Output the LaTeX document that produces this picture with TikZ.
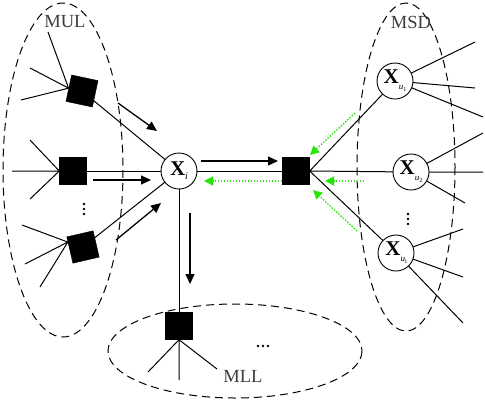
\documentclass[tikz,border=0pt]{standalone}
\usepackage{fontspec}
\setmainfont{Liberation Serif}
\usetikzlibrary{arrows.meta,backgrounds,calc}
\definecolor{grn}{RGB}{40,228,10}
\definecolor{labgray}{RGB}{60,60,60}
\begin{document}
\begin{tikzpicture}[x=1pt,y=-1pt,
  sq/.style={fill=black,draw=black,minimum size=27pt,inner sep=0pt},
  var/.style={circle,draw,line width=0.9pt,fill=white,minimum size=36pt,inner sep=0pt},
  ln/.style={line width=1pt},
  arr/.style={line width=1.3pt,-{Triangle[length=10pt,width=9pt]}},
  garr/.style={grn,line width=1.3pt,dash pattern=on 1.5pt off 1.5pt,-{Triangle[length=9pt,width=9pt]}},
  grp/.style={dash pattern=on 8pt off 5pt,line width=1pt},
  lab/.style={text=labgray,font=\fontsize{18.5}{18.5}\selectfont,inner sep=0pt},
  dot/.style={fill=black,circle,inner sep=0pt,minimum size=2.6pt}]
\useasboundingbox (0,0) rectangle (485,400);
% groups
\draw[grp] (63,170) ellipse [x radius=60, y radius=167];
\draw[grp] (406,167) ellipse [x radius=49, y radius=164];
\draw[grp] (235,351) ellipse [x radius=127, y radius=47];
\node[lab] (mul) at (65,22) {MUL};
\node[lab] (msd) at (411,22) {MSD};
\node[lab] (mll) at (243,376) {MLL};
% factor nodes
\node[sq,rotate=-12] (s1) at (82,91) {};
\node[sq] (s2) at (73,171) {};
\node[sq,rotate=13] (s3) at (83,247) {};
\node[sq] (c) at (296,171) {};
\node[sq] (m) at (179,326) {};
% variable nodes
\node[var] (xi) at (179,171) {{\fontsize{21}{21}\selectfont\bfseries X}\raisebox{-4pt}{\fontsize{10}{10}\selectfont\itshape i}};
\node[var] (u1) at (395,81) {{\fontsize{21}{21}\selectfont\bfseries X}\raisebox{-6pt}{\fontsize{9}{9}\selectfont\itshape u\raisebox{-2pt}{\fontsize{6}{6}\selectfont\upshape 1}}};
\node[var] (u2) at (411,172) {{\fontsize{21}{21}\selectfont\bfseries X}\raisebox{-6pt}{\fontsize{9}{9}\selectfont\itshape u\raisebox{-2pt}{\fontsize{6}{6}\selectfont\upshape 2}}};
\node[var] (ul) at (396,253) {{\fontsize{21}{21}\selectfont\bfseries X}\raisebox{-6pt}{\fontsize{9}{9}\selectfont\itshape u\raisebox{-2pt}{\fontsize{6}{6}\selectfont\upshape l}}};
% free ends
\coordinate (a1) at (48,32);
\coordinate (a2) at (30,68);
\coordinate (a3) at (21,100);
\coordinate (b1) at (30,140);
\coordinate (b2) at (12,171);
\coordinate (b3) at (30,199);
\coordinate (d1) at (22,225);
\coordinate (d2) at (25,264);
\coordinate (d3) at (40,287);
\coordinate (e1) at (148,372);
\coordinate (e2) at (179,380);
\coordinate (e3) at (217,369);
\coordinate (p1) at (475,42);
\coordinate (p2) at (475,88);
\coordinate (p3) at (483,117);
\coordinate (q1) at (483,133);
\coordinate (q2) at (483,172);
\coordinate (q3) at (465,203);
\coordinate (r1) at (463,229);
\coordinate (r2) at (463,277);
\coordinate (r3) at (463,323);
\begin{scope}[on background layer]
  \draw[ln] (a1) -- (s1.west) (a2) -- (s1.west) (a3) -- (s1.west);
  \draw[ln] (b1) -- (s2.west) (b2) -- (s2.west) (b3) -- (s2.west);
  \coordinate (s3in) at ($(s3.west)!0.6!(s3.north west)$);
  \draw[ln] (d1) -- (s3in) (d2) -- (s3in) (d3) -- (s3in);
  \draw[ln] (s1.center) -- (xi.center);
  \draw[ln] (s2.center) -- (xi.center);
  \draw[ln] (s3.center) -- (xi.center);
  \draw[ln] (xi.center) -- (m.center);
  \draw[ln] (xi.center) -- (c.center);
  \draw[ln] (m.south) -- (e1) (m.south) -- (e2) (m.south) -- (e3);
  \draw[ln] (c.east) -- (u1.center) (c.east) -- (u2.center) (c.east) -- (ul.center);
  \draw[ln] (u1.center) -- (p1) (u1.center) -- (p2) (u1.center) -- (p3);
  \draw[ln] (u2.center) -- (q1) (u2.center) -- (q2) (u2.center) -- (q3);
  \draw[ln] (ul.center) -- (r1) (ul.center) -- (r2) (ul.center) -- (r3);
\end{scope}
% message arrows
\coordinate (m1s) at (118,103); \coordinate (m1e) at (157,131);
\coordinate (m2s) at (93,180);  \coordinate (m2e) at (151,180);
\coordinate (m3s) at (116,240); \coordinate (m3e) at (161,203);
\coordinate (m4s) at (190,213); \coordinate (m4e) at (190,284);
\coordinate (m5s) at (201,161); \coordinate (m5e) at (278,161);
\draw[arr] (m1s) -- (m1e);
\draw[arr] (m2s) -- (m2e);
\draw[arr] (m3s) -- (m3e);
\draw[arr] (m4s) -- (m4e);
\draw[arr] (m5s) -- (m5e);
\coordinate (g1s) at (355,113); \coordinate (g1e) at (310,155);
\coordinate (g2s) at (364,181); \coordinate (g2e) at (325,181);
\coordinate (g3s) at (357,231); \coordinate (g3e) at (313,190);
\coordinate (g4s) at (282,181); \coordinate (g4e) at (204,181);
\draw[garr] (g1s) -- (g1e);
\draw[garr] (g2s) -- (g2e);
\draw[garr] (g3s) -- (g3e);
\draw[garr] (g4s) -- (g4e);
% ellipsis dots
\node[dot] (v1) at (84,204) {};
\node[dot] (v2) at (84,209) {};
\node[dot] (v3) at (84,214) {};
\node[dot] (w1) at (408,214) {};
\node[dot] (w2) at (408,219) {};
\node[dot] (w3) at (408,224) {};
\node[dot] (h1) at (258,346) {};
\node[dot] (h2) at (263,346) {};
\node[dot] (h3) at (268,346) {};
\end{tikzpicture}
\end{document}
